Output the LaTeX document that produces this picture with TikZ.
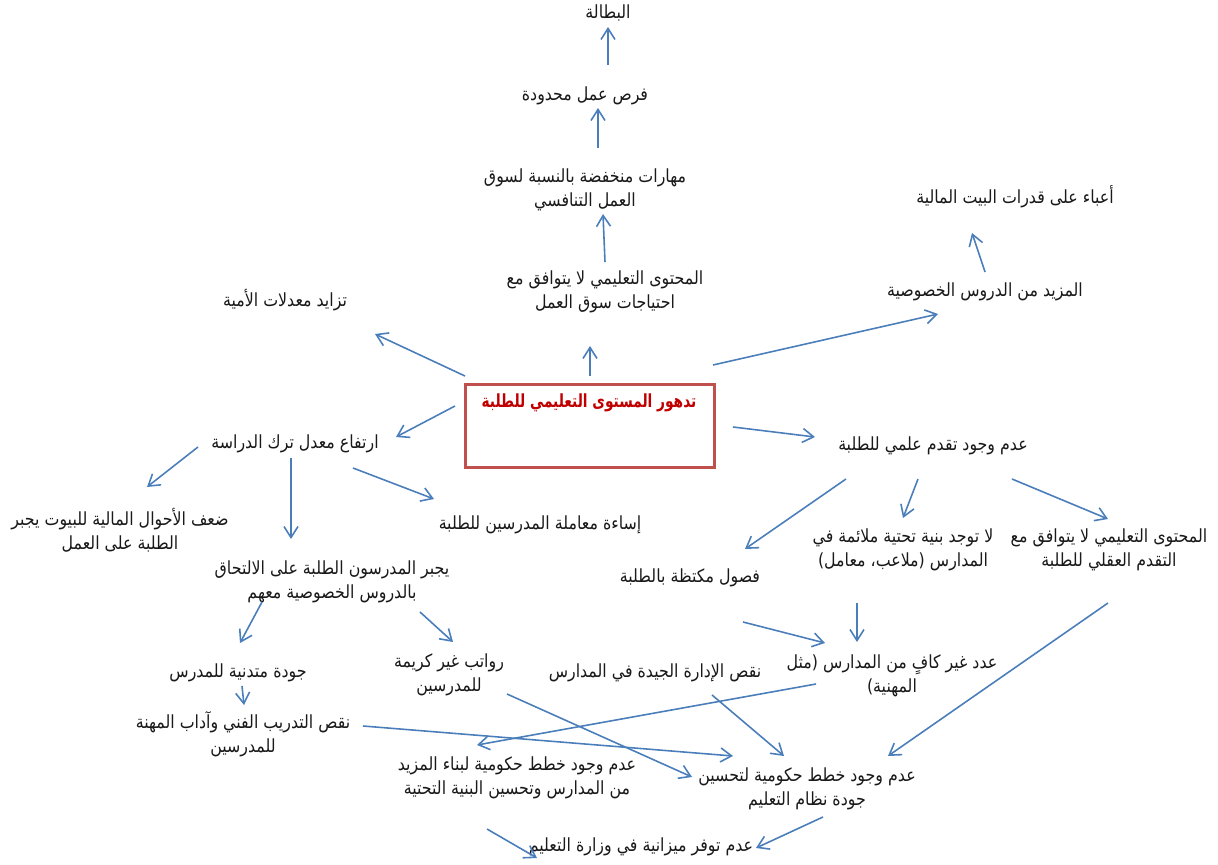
\documentclass[tikz,border=0pt]{standalone}
\usepackage{fontspec}
\usetikzlibrary{arrows.meta}
\newfontfamily\arabicfont[Script=Arabic, FakeStretch=0.875]{DejaVu Sans}
\newfontfamily\titlefont[Script=Arabic, FakeStretch=0.76]{DejaVu Sans}
\TeXXeTstate=1
\newcommand{\ar}[1]{\beginR #1\endR}

\definecolor{linkblue}{HTML}{4A7EBB}
\definecolor{boxred}{HTML}{C0504D}
\definecolor{titlered}{HTML}{C00000}

\tikzset{
  txt/.style={font=\arabicfont\fontsize{10.3}{13.7}\selectfont, text=black!90, align=center, inner sep=1pt},
  title/.style={font=\titlefont\bfseries\fontsize{10.3}{13}\selectfont, text=titlered, inner sep=1pt},
  core/.style={draw=boxred, line width=2pt, minimum width=4.98cm, minimum height=1.66cm},
  link/.style={draw=linkblue, line width=0.9pt, -{Straight Barb[length=2.2mm,width=2.8mm]}},
}

\begin{document}
\begin{tikzpicture}[x=0.02cm, y=-0.02cm]

\useasboundingbox (0,0) rectangle (1218,865);

% the problem
\node[core] (core) at (590,426) {};
\node[title] (title) at (589,403) {\ar{تدهور المستوى التعليمي للطلبة}};

% effects
\node[txt] (unemp)  at (608,13)  {\ar{البطالة}};
\node[txt] (jobs)   at (585,96)  {\ar{فرص عمل محدودة}};
\node[txt] (skills) at (585,190) {\ar{مهارات منخفضة بالنسبة لسوق}\\\ar{العمل التنافسي}};
\node[txt] (market) at (605,292) {\ar{المحتوى التعليمي لا يتوافق مع}\\\ar{احتياجات سوق العمل}};
\node[txt] (illit)  at (285,300) {\ar{تزايد معدلات الأمية}};
\node[txt] (tutor)  at (985,292) {\ar{المزيد من الدروس الخصوصية}};
\node[txt] (burden) at (1015,197) {\ar{أعباء على قدرات البيت المالية}};

% causes
\node[txt] (drop)    at (295,444) {\ar{ارتفاع معدل ترك الدراسة}};
\node[txt] (noprog)  at (933,446) {\ar{عدم وجود تقدم علمي للطلبة}};
\node[txt] (poor)    at (120,530) {\ar{ضعف الأحوال المالية للبيوت يجبر}\\\ar{الطلبة على العمل}};
\node[txt] (abuse)   at (540,525) {\ar{إساءة معاملة المدرسين للطلبة}};
\node[txt] (force)   at (332,582) {\ar{يجبر المدرسون الطلبة على الالتحاق}\\\ar{بالدروس الخصوصية معهم}};
\node[txt] (content) at (1109,550) {\ar{المحتوى التعليمي لا يتوافق مع}\\\ar{التقدم العقلي للطلبة}};
\node[txt] (infra)   at (903,550) {\ar{لا توجد بنية تحتية ملائمة في}\\\ar{المدارس (ملاعب، معامل)}};
\node[txt] (crowd)   at (690,578) {\ar{فصول مكتظة بالطلبة}};
\node[txt] (quality) at (238,673) {\ar{جودة متدنية للمدرس}};
\node[txt] (salary)  at (449,675) {\ar{رواتب غير كريمة}\\\ar{للمدرسين}};
\node[txt] (manage)  at (655,673) {\ar{نقص الإدارة الجيدة في المدارس}};
\node[txt] (few)     at (892,676) {\ar{عدد غير كافٍ من المدارس (مثل}\\\ar{المهنية)}};
\node[txt] (train)   at (243,734) {\ar{نقص التدريب الفني وآداب المهنة}\\\ar{للمدرسين}};
\node[txt] (build)   at (517,778) {\ar{عدم وجود خطط حكومية لبناء المزيد}\\\ar{من المدارس وتحسين البنية التحتية}};
\node[txt] (plan)    at (807,789) {\ar{عدم وجود خطط حكومية لتحسين}\\\ar{جودة نظام التعليم}};
\node[txt] (budget)  at (641,847) {\ar{عدم توفر ميزانية في وزارة التعليم}};

% links
\draw[link] ([shift={(23,-31)}]jobs.center) -- ([shift={(0,14)}]unemp.center);
\draw[link] ([shift={(13,-42)}]skills.center) -- ([shift={(13,12)}]jobs.center);
\draw[link] ([shift={(0,-30)}]market.center) -- ([shift={(18,24)}]skills.center);
\draw[link] ([shift={(0,-20)}]tutor.center) -- ([shift={(-43,36)}]burden.center);
\draw[link] ([shift={(123,-61)}]core.center) -- ([shift={(-47,22)}]tutor.center);
\draw[link] ([shift={(0,-50)}]core.center) -- ([shift={(-15,54)}]market.center);
\draw[link] ([shift={(-125,-50)}]core.center) -- ([shift={(90,34)}]illit.center);
\draw[link] ([shift={(-135,-20)}]core.center) -- ([shift={(101,-7)}]drop.center);
\draw[link] ([shift={(143,1)}]core.center) -- ([shift={(-118,-9)}]noprog.center);

\draw[link] ([shift={(-97,3)}]drop.center) -- ([shift={(27,-43)}]poor.center);
\draw[link] ([shift={(-4,14)}]drop.center) -- ([shift={(-41,-43)}]force.center);
\draw[link] ([shift={(58,24)}]drop.center) -- ([shift={(-106,-26)}]abuse.center);
\draw[link] ([shift={(-87,33)}]noprog.center) -- ([shift={(55,-29)}]crowd.center);
\draw[link] ([shift={(-15,33)}]noprog.center) -- ([shift={(0,-32)}]infra.center);
\draw[link] ([shift={(79,33)}]noprog.center) -- ([shift={(-1,-31)}]content.center);

\draw[link] ([shift={(-70,20)}]force.center) -- ([shift={(2,-30)}]quality.center);
\draw[link] ([shift={(88,30)}]force.center) -- ([shift={(4,-33)}]salary.center);
\draw[link] ([shift={(53,44)}]crowd.center) -- ([shift={(-67,-33)}]few.center);
\draw[link] ([shift={(-46,53)}]infra.center) -- ([shift={(-35,-34)}]few.center);
\draw[link] ([shift={(-1,53)}]content.center) -- ([shift={(81,-33)}]plan.center);
\draw[link] ([shift={(4,13)}]quality.center) -- ([shift={(1,-29)}]train.center);
\draw[link] ([shift={(58,19)}]salary.center) -- ([shift={(-115,-12)}]plan.center);
\draw[link] ([shift={(57,22)}]manage.center) -- ([shift={(-23,-33)}]plan.center);
\draw[link] ([shift={(-76,8)}]few.center) -- ([shift={(-40,-33)}]build.center);
\draw[link] ([shift={(120,-8)}]train.center) -- ([shift={(-74,-33)}]plan.center);
\draw[link] ([shift={(16,28)}]plan.center) -- ([shift={(115,1)}]budget.center);
\draw[link] ([shift={(-30,51)}]build.center) -- ([shift={(-104,11)}]budget.center);

\end{tikzpicture}
\end{document}
